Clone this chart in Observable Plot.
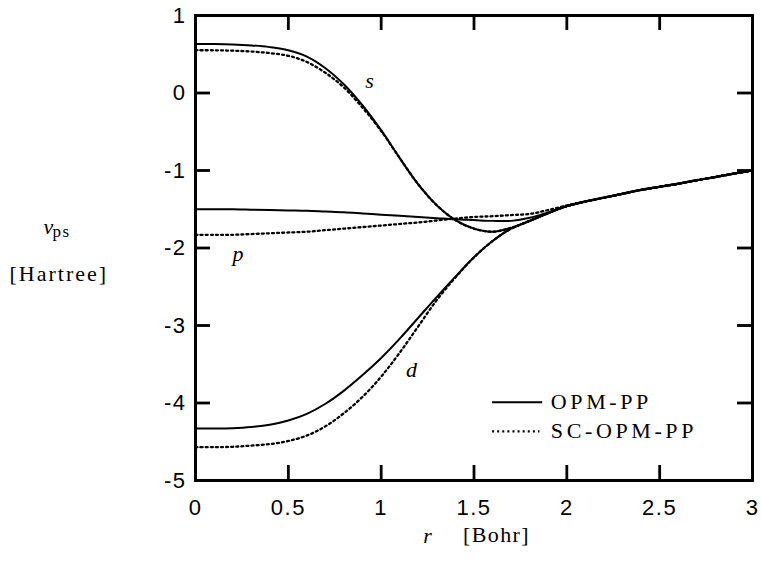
<!DOCTYPE html>
<html><head><meta charset="utf-8">
<script src="https://cdn.jsdelivr.net/npm/d3@7"></script>
<script src="https://cdn.jsdelivr.net/npm/@observablehq/plot@0.6"></script>
<style>html,body{margin:0;padding:0;background:#fff;} svg{display:block;}</style>
</head><body><div id="chart"></div>
<script>
// radial grid (Bohr)
const r = [0,0.1,0.2,0.3,0.4,0.5,0.6,0.7,0.8,0.9,1.0,1.1,1.2,1.3,1.4,1.5,1.6,1.7,1.8,1.9,2.0,2.1,2.2,2.3,2.4,2.5,2.6,2.7,2.8,2.9,3.0];
// pseudopotentials v_ps (Hartree)
const sOPM = [0.632,0.631,0.626,0.614,0.592,0.552,0.47,0.32,0.11,-0.16,-0.48,-0.84,-1.18,-1.45,-1.64,-1.75,-1.79,-1.74,-1.65,-1.55,-1.46,-1.40,-1.35,-1.30,-1.25,-1.21,-1.17,-1.125,-1.085,-1.04,-1.0];
const sSC  = [0.552,0.551,0.546,0.535,0.515,0.48,0.40,0.26,0.07,-0.19,-0.49,-0.84,-1.18,-1.45,-1.64,-1.75,-1.79,-1.74,-1.65,-1.55,-1.46,-1.40,-1.35,-1.30,-1.25,-1.21,-1.17,-1.125,-1.085,-1.04,-1.0];
const pOPM = [-1.50,-1.50,-1.50,-1.505,-1.51,-1.515,-1.52,-1.53,-1.54,-1.555,-1.57,-1.585,-1.60,-1.615,-1.63,-1.64,-1.65,-1.65,-1.61,-1.54,-1.46,-1.40,-1.35,-1.30,-1.25,-1.21,-1.17,-1.125,-1.085,-1.04,-1.0];
const pSC  = [-1.83,-1.83,-1.83,-1.82,-1.81,-1.80,-1.79,-1.77,-1.75,-1.73,-1.71,-1.69,-1.67,-1.645,-1.62,-1.60,-1.59,-1.575,-1.56,-1.51,-1.45,-1.40,-1.35,-1.30,-1.25,-1.21,-1.17,-1.125,-1.085,-1.04,-1.0];
const dOPM = [-4.33,-4.33,-4.325,-4.31,-4.28,-4.225,-4.14,-4.01,-3.84,-3.64,-3.42,-3.17,-2.90,-2.63,-2.37,-2.12,-1.91,-1.75,-1.65,-1.55,-1.46,-1.40,-1.35,-1.30,-1.25,-1.21,-1.17,-1.125,-1.085,-1.04,-1.0];
const dSC  = [-4.57,-4.57,-4.565,-4.55,-4.53,-4.49,-4.42,-4.30,-4.13,-3.92,-3.66,-3.35,-3.01,-2.67,-2.38,-2.12,-1.91,-1.75,-1.65,-1.55,-1.46,-1.40,-1.35,-1.30,-1.25,-1.21,-1.17,-1.125,-1.085,-1.04,-1.0];
const methods = ["OPM-PP", "SC-OPM-PP"];
const xTicks = [0, 0.5, 1, 1.5, 2, 2.5, 3];
const yTicks = [1, 0, -1, -2, -3, -4, -5];

const rows = [];
function add(arr, channel, method) { arr.forEach((v, i) => rows.push({r: r[i], v, channel, method})); }
add(sOPM, "s", methods[0]); add(pOPM, "p", methods[0]); add(dOPM, "d", methods[0]);
add(sSC, "s", methods[1]);  add(pSC, "p", methods[1]);  add(dSC, "d", methods[1]);

const serif = "'Liberation Serif', 'Times New Roman', serif";
const sans = "'Liberation Sans', Arial, sans-serif";
const W = 761, H = 562, mL = 195, mR = 9, mT = 15, mB = 82;
const fw = W - mL - mR, fh = H - mT - mB, tick = 15;
const dots = "2,3.1";

const chart = Plot.plot({
  width: W, height: H,
  marginLeft: mL, marginRight: mR, marginTop: mT, marginBottom: mB,
  style: {background: "#fff", color: "#000", fontFamily: sans},
  x: {domain: [0, 3]},
  y: {domain: [-5, 1]},
  marks: [
    Plot.line(rows.filter(d => d.method === methods[0]), {x: "r", y: "v", z: "channel", curve: "catmull-rom", stroke: "#000", strokeWidth: 2}),
    Plot.line(rows.filter(d => d.method === methods[1]), {x: "r", y: "v", z: "channel", curve: "catmull-rom", stroke: "#000", strokeWidth: 2.3, strokeDasharray: dots}),
    Plot.ruleX(xTicks, {x: d => d, insetTop: fh - tick, strokeWidth: 2.8}),
    Plot.ruleX(xTicks, {x: d => d, insetBottom: fh - tick, strokeWidth: 2.8}),
    Plot.ruleY(yTicks, {y: d => d, insetRight: fw - tick, strokeWidth: 2.8}),
    Plot.ruleY(yTicks, {y: d => d, insetLeft: fw - tick, strokeWidth: 2.8}),
    Plot.frame({stroke: "#000", strokeWidth: 3}),
    Plot.axisX({ticks: xTicks, tickSize: 0, tickPadding: 19, fontSize: 22, label: null, tickFormat: d => String(d)}),
    Plot.axisY({ticks: yTicks, tickSize: 0, tickPadding: 9, fontSize: 22, label: null, tickFormat: d => String(d)}),
    // curve labels
    Plot.text(["s"], {x: 0.937, y: 0.16, text: d => d, fontFamily: serif, fontStyle: "italic", fontSize: 22}),
    Plot.text(["p"], {x: 0.229, y: -2.08, text: d => d, fontFamily: serif, fontStyle: "italic", fontSize: 22}),
    Plot.text(["d"], {x: 1.163, y: -3.57, text: d => d, fontFamily: serif, fontStyle: "italic", fontSize: 22}),
    // legend
    Plot.ruleY([-3.99], {x1: 1.60, x2: 1.87, strokeWidth: 2}),
    Plot.ruleY([-4.365], {x1: 1.60, x2: 1.855, strokeWidth: 2.3, strokeDasharray: dots}),
    Plot.text([methods[0]], {x: 1.914, y: -3.99, text: d => d, textAnchor: "start", fontFamily: serif, fontSize: 22}),
    Plot.text([methods[1]], {x: 1.914, y: -4.365, text: d => d, textAnchor: "start", fontFamily: serif, fontSize: 22}),
    // axis titles
    Plot.text(["v"], {frameAnchor: "left", textAnchor: "start", dx: -152, dy: -21.5, text: d => d, fontFamily: serif, fontStyle: "italic", fontSize: 22}),
    Plot.text(["ps"], {frameAnchor: "left", textAnchor: "start", dx: -143, dy: -16.5, text: d => d, fontFamily: serif, fontSize: 17}),
    Plot.text(["[Hartree]"], {frameAnchor: "left", textAnchor: "start", dx: -186, dy: 25.5, text: d => d, fontFamily: serif, fontSize: 22}),
    Plot.text(["r"], {frameAnchor: "bottom", textAnchor: "middle", dx: -46.5, dy: 62, text: d => d, fontFamily: serif, fontStyle: "italic", fontSize: 22}),
    Plot.text(["[Bohr]"], {frameAnchor: "bottom", textAnchor: "start", dx: -11, dy: 61, text: d => d, fontFamily: serif, fontSize: 22})
  ]
});
// widen glyph spacing to match the horizontally stretched reference lettering
const spacing = {"OPM-PP": 3.6, "SC-OPM-PP": 3.6, "[Hartree]": 2, "[Bohr]": 1.4, "ps": 1.5};
const tickText = new Set([...xTicks, ...yTicks].map(String));
d3.select(chart).selectAll("text").each(function () {
  const t = this.textContent;
  if (spacing[t] != null) this.style.letterSpacing = spacing[t] + "px";
  else if (tickText.has(t)) this.style.letterSpacing = "1.5px";
});
document.getElementById("chart").appendChild(chart);
</script>
</body></html>
